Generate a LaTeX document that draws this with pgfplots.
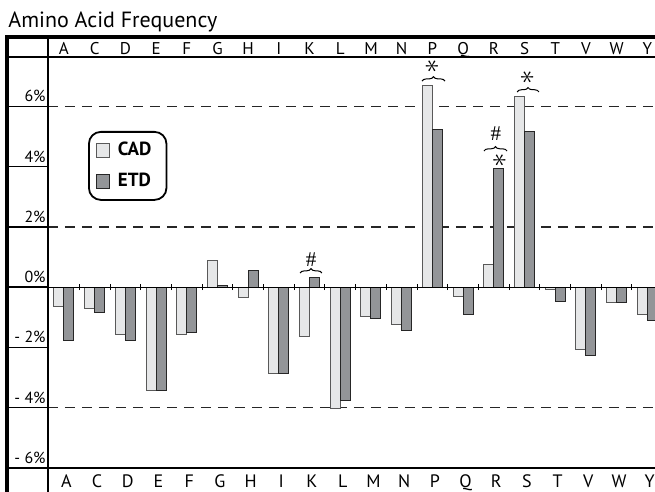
\documentclass[border=0pt]{standalone}
\usepackage{pgfplots}
\pgfplotsset{compat=1.18}
\usepackage{fontspec}
\setmainfont{PT Sans}
\newfontfamily\hashfont{Liberation Serif}
\usetikzlibrary{decorations.pathreplacing}
\definecolor{cad}{HTML}{E6E7E8}
\definecolor{etd}{HTML}{939598}
\pgfplotsset{frameaxis/.style={
  at={(24pt,-234pt)}, anchor=south west,
  scale only axis, width=303.5pt, height=205.5pt,
  xmin=-0.52, xmax=19.25, ymin=-6, ymax=7.64,
  axis line style={draw=none},
  xtick={0,...,19},
  xticklabels={A,C,D,E,F,G,H,I,K,L,M,N,P,Q,R,S,T,V,W,Y},
  major tick length=0pt,
}}
\begin{document}
\begin{tikzpicture}
\path[use as bounding box] (0,0) rectangle (327.5pt,-246pt);
\begin{axis}[frameaxis,
  ytick=\empty,
  xticklabel pos=upper,
  xticklabel style={font=\fontsize{8.5}{9}\selectfont, anchor=base, inner sep=0pt, yshift=1pt, xshift=0pt},
]
\end{axis}
\begin{axis}[frameaxis,
  clip mode=individual,
  ytick={-6,-4,-2,0,2,4,6},
  yticklabels={- 6\%,- 4\%,- 2\%,0\%,2\%,4\%,6\%},
  xticklabel style={font=\fontsize{9}{9}\selectfont, anchor=base, inner sep=0pt, yshift=-9.5pt, xshift=1.2pt},
  yticklabel style={font=\fontsize{8}{9}\selectfont, anchor=south east, inner sep=0pt, xshift=-1pt, yshift=2pt},
  legend style={at={(0.0659,0.820)}, anchor=north west, draw=black, line width=0.9pt,
    rounded corners=6pt, inner xsep=3.5pt, inner ysep=3pt, row sep=3.5pt,
    font=\bfseries\fontsize{9.5}{10}\selectfont,
    nodes={inner xsep=4pt}},
  legend cell align=left,
  legend image code/.code={\draw[#1, sharp corners] (0pt,-3.5pt) rectangle (6.5pt,3.5pt);},
]
\draw[black!85, line width=0.6pt, dash pattern=on 5pt off 3.5pt] (axis cs:-0.52,6) -- (axis cs:19.25,6);
\draw[black!85, line width=0.6pt, dash pattern=on 5pt off 3.5pt] (axis cs:-0.52,2) -- (axis cs:19.25,2);
\draw[black!85, line width=0.6pt, dash pattern=on 5pt off 3.5pt] (axis cs:-0.52,-4) -- (axis cs:19.25,-4);

\addplot[ybar, bar width=5pt, bar shift=-2.5pt, fill=cad, draw=black!65, line width=0.5pt] coordinates {
 (0,-0.63) (1,-0.71) (2,-1.56) (3,-3.42) (4,-1.56) (5,0.90) (6,-0.34) (7,-2.85) (8,-1.62) (9,-4.01)
 (10,-0.96) (11,-1.23) (12,6.71) (13,-0.32) (14,0.76) (15,6.32) (16,-0.06) (17,-2.07) (18,-0.52) (19,-0.91)};
\addlegendentry{CAD}
\addplot[ybar, bar width=5pt, bar shift=2.5pt, fill=etd, draw=black!85, line width=0.5pt] coordinates {
 (0,-1.76) (1,-0.85) (2,-1.76) (3,-3.42) (4,-1.51) (5,0.06) (6,0.56) (7,-2.85) (8,0.32) (9,-3.75)
 (10,-1.04) (11,-1.43) (12,5.24) (13,-0.91) (14,3.94) (15,5.16) (16,-0.47) (17,-2.27) (18,-0.52) (19,-1.10)};
\addlegendentry{ETD}

\draw[line width=0.7pt] (axis cs:-0.52,0) -- (axis cs:19.25,0);
\pgfplotsinvokeforeach{0,...,18}{\draw[line width=0.5pt] (axis cs:#1.5,-0.1) -- (axis cs:#1.5,0.1);}

% annotations
\draw[decorate, decoration={brace, amplitude=2.2pt}, line width=0.5pt] (axis cs:7.69,0.47) -- (axis cs:8.40,0.47);
\node[font=\hashfont\fontsize{10.5}{10}\selectfont, inner sep=0pt] at (axis cs:8.05,0.92) {\#};
\draw[decorate, decoration={brace, amplitude=2.2pt}, line width=0.5pt] (axis cs:11.66,6.84) -- (axis cs:12.41,6.84);
\node[inner sep=0pt, rotate=90, font=\fontsize{15}{15}\selectfont] at (axis cs:12.0,7.33) {$\ast$};
\draw[decorate, decoration={brace, amplitude=2.2pt}, line width=0.5pt] (axis cs:14.76,6.48) -- (axis cs:15.47,6.48);
\node[inner sep=0pt, rotate=90, font=\fontsize{15}{15}\selectfont] at (axis cs:15.1,6.97) {$\ast$};
\draw[decorate, decoration={brace, amplitude=2.2pt}, line width=0.5pt] (axis cs:13.68,4.52) -- (axis cs:14.43,4.52);
\node[font=\hashfont\fontsize{10.5}{10}\selectfont, inner sep=0pt] at (axis cs:14.07,5.08) {\#};
\node[inner sep=0pt, rotate=90, font=\fontsize{15}{15}\selectfont] at (axis cs:14.2,4.21) {$\ast$};
\end{axis}
\begin{scope}[x=0.5pt,y=-0.5pt]
\draw[line width=2pt, line join=miter] (7,492) -- (7,37.5) -- (655,37.5);
\draw[line width=0.75pt] (48,37) -- (48,492);
\draw[line width=0.75pt] (7,57) -- (655,57);
\draw[line width=0.75pt] (7,468) -- (655,468);
\foreach \y in {106.4,166.7,226.9,287.2,347.5,407.7} \draw[line width=0.75pt] (7,\y) -- (48,\y);
\node[anchor=base west, inner sep=0pt, font=\fontsize{11}{12}\selectfont] at (8,28) {Amino Acid Frequency};
\end{scope}
\end{tikzpicture}
\end{document}
